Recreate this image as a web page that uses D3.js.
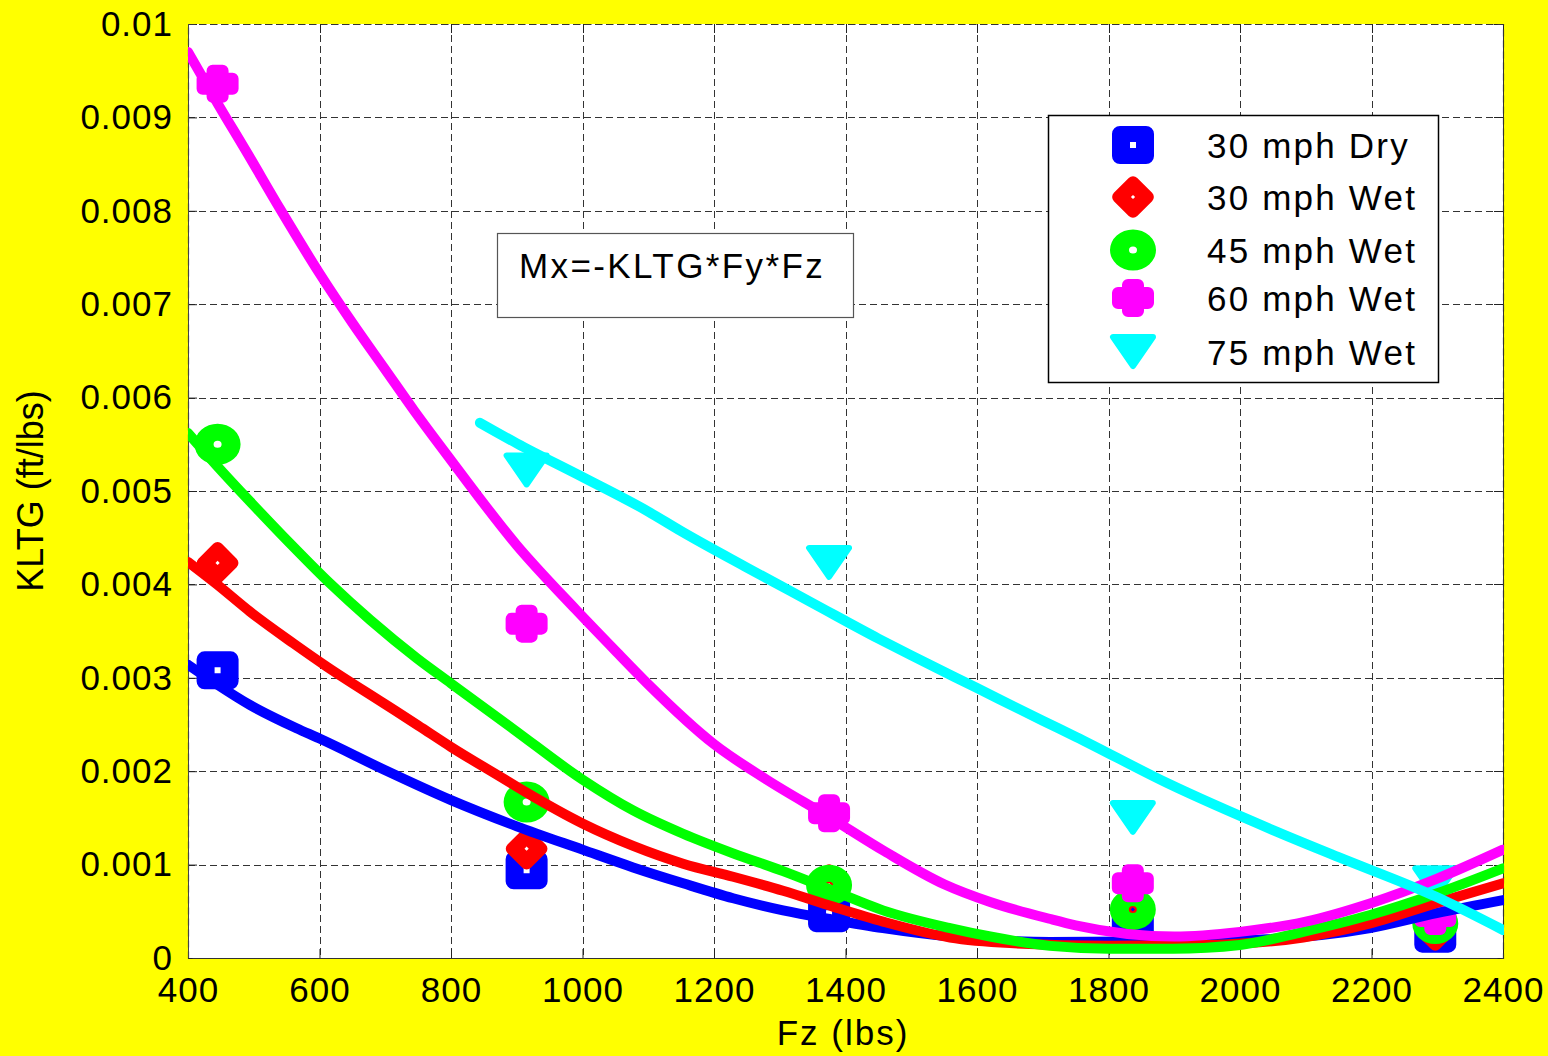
<!DOCTYPE html>
<html>
<head>
<meta charset="utf-8">
<script src="https://cdn.jsdelivr.net/npm/d3@7"></script>
<style>
  html, body { margin: 0; padding: 0; background: #ffff00; }
  svg { display: block; }
  text { font-family: "Liberation Sans", Arial, sans-serif; fill: #000; }
</style>
</head>
<body>
<svg id="chart" width="1548" height="1056"></svg>
<script>
// ---------- data ----------
const xTicks = [400, 600, 800, 1000, 1200, 1400, 1600, 1800, 2000, 2200, 2400];
const yTicks = [0, 0.001, 0.002, 0.003, 0.004, 0.005, 0.006, 0.007, 0.008, 0.009, 0.01];
const yTickLabels = ["0", "0.001", "0.002", "0.003", "0.004", "0.005", "0.006", "0.007", "0.008", "0.009", "0.01"];

const seriesNames = ["30 mph Dry", "30 mph Wet", "45 mph Wet", "60 mph Wet", "75 mph Wet"];
const seriesColors = ["#0000ff", "#ff0000", "#00ff00", "#ff00ff", "#00ffff"];

// measured points
const pointFz = [445, 915, 1375, 1837, 2297];
const dry30 = [0.00308, 0.00094, 0.00048, 0.00040, 0.00026];
const wet30 = [0.00423, 0.00117, 0.00078, 0.00052, 0.00030];
const wet45 = [0.00550, 0.00167, 0.00078, 0.00052, 0.00037];
const wet60 = [0.00936, 0.00358, 0.00155, 0.00080, 0.00045];
const wet75 = [null, 0.00522, 0.00423, 0.00150, 0.00080];

// fitted curves
const dry30FitX = [400, 444, 494, 565, 600, 700, 800, 900, 1000, 1077, 1153, 1229, 1305, 1381, 1457, 1559, 1711, 1898, 2000, 2198, 2299, 2400];
const dry30FitY = [0.00314, 0.00293, 0.00271, 0.00246, 0.00235, 0.00201, 0.00169, 0.00141, 0.00116, 0.00097, 0.00080, 0.00064, 0.00051, 0.00041, 0.00032, 0.00023, 0.00017, 0.00018, 0.00019, 0.00032, 0.00048, 0.00062];

const wet30FitX = [400, 444, 494, 560, 611, 697, 750, 800, 875, 915, 1000, 1077, 1153, 1229, 1305, 1381, 1457, 1559, 1650, 1800, 1950, 2096, 2198, 2299, 2400];
const wet30FitY = [0.00424, 0.00400, 0.00371, 0.00337, 0.00312, 0.00273, 0.00249, 0.00226, 0.00194, 0.00177, 0.00144, 0.00120, 0.00101, 0.00087, 0.00072, 0.00055, 0.00039, 0.00022, 0.00016, 0.00013, 0.00014, 0.00022, 0.00037, 0.00059, 0.00080];

const wet45FitX = [400, 444, 494, 555, 616, 677, 748, 800, 895, 1000, 1077, 1153, 1229, 1305, 1381, 1457, 1559, 1620, 1711, 1800, 1898, 2000, 2096, 2198, 2299, 2400];
const wet45FitY = [0.00562, 0.00527, 0.00489, 0.00444, 0.00401, 0.00362, 0.00321, 0.00294, 0.00245, 0.00191, 0.00158, 0.00133, 0.00112, 0.00093, 0.00072, 0.00051, 0.00032, 0.00023, 0.00013, 0.00010, 0.00010, 0.00014, 0.00028, 0.00046, 0.00069, 0.00096];

const wet60FitX = [400, 445, 490, 540, 600, 650, 700, 745, 800, 900, 990, 1050, 1100, 1200, 1280, 1375, 1460, 1550, 1620, 1710, 1750, 1900, 2000, 2100, 2200, 2300, 2400];
const wet60FitY = [0.00970, 0.00915, 0.00862, 0.00802, 0.00733, 0.00680, 0.00630, 0.00585, 0.00533, 0.00442, 0.00373, 0.00329, 0.00293, 0.00229, 0.00191, 0.00151, 0.00114, 0.00079, 0.00060, 0.00042, 0.00035, 0.00023, 0.00028, 0.00039, 0.00059, 0.00085, 0.00116];

const wet75FitX = [844, 900, 1000, 1100, 1150, 1250, 1350, 1450, 1500, 1600, 1700, 1750, 1890, 2050, 2150, 2300, 2400];
const wet75FitY = [0.00573, 0.00551, 0.00515, 0.00478, 0.00457, 0.00418, 0.00380, 0.00342, 0.00324, 0.00289, 0.00254, 0.00237, 0.00187, 0.00137, 0.00108, 0.00065, 0.00030];

const pointSets = [dry30, wet30, wet45, wet60, wet75];
const fitXs = [dry30FitX, wet30FitX, wet45FitX, wet60FitX, wet75FitX];
const fitYs = [dry30FitY, wet30FitY, wet45FitY, wet60FitY, wet75FitY];

const xTitle = "Fz (lbs)";
const yTitle = "KLTG (ft/lbs)";
const noteText = "Mx=-KLTG*Fy*Fz";

// ---------- layout ----------
const W = 1548, H = 1056;
const plot = { left: 188, right: 1503, top: 24, bottom: 958 };

const svg = d3.select("#chart");
const x = d3.scaleLinear().domain([400, 2400]).range([plot.left, plot.right]);
const y = d3.scaleLinear().domain([0, 0.01]).range([plot.bottom, plot.top]);

svg.append("rect").attr("width", W).attr("height", H).attr("fill", "#ffff00");
svg.append("rect")
  .attr("x", plot.left).attr("y", plot.top)
  .attr("width", plot.right - plot.left).attr("height", plot.bottom - plot.top)
  .attr("fill", "#fff");

// grid
const grid = svg.append("g").attr("stroke", "#333").attr("stroke-width", 1).attr("stroke-dasharray", "7,4");
grid.selectAll(".vg").data(xTicks).join("line")
  .attr("x1", d => Math.round(x(d)) + 0.5).attr("x2", d => Math.round(x(d)) + 0.5)
  .attr("y1", plot.top).attr("y2", plot.bottom);
grid.selectAll(".hg").data(yTicks).join("line")
  .attr("y1", d => Math.round(y(d)) + 0.5).attr("y2", d => Math.round(y(d)) + 0.5)
  .attr("x1", plot.left).attr("x2", plot.right);

// axes (ticks inward, labels)
const xAxis = d3.axisBottom(x).tickValues(xTicks).tickFormat(d3.format("d")).tickSizeInner(-9).tickSizeOuter(0).tickPadding(22);
const gx = svg.append("g").attr("transform", `translate(0,${plot.bottom})`).call(xAxis);
gx.select(".domain").remove();
gx.selectAll(".tick line").attr("stroke", "#222");
gx.selectAll(".tick text").attr("font-size", 35).attr("letter-spacing", 1)
  .attr("font-family", "Liberation Sans, Arial, sans-serif").attr("dy", "0.71em").attr("y", 19).attr("fill", "#000");

const yAxis = d3.axisLeft(y).tickValues(yTicks).tickFormat((d, i) => yTickLabels[i]).tickSizeInner(-9).tickSizeOuter(0).tickPadding(16);
const gy = svg.append("g").attr("transform", `translate(${plot.left},0)`).call(yAxis);
gy.select(".domain").remove();
gy.selectAll(".tick line").attr("stroke", "#222");
gy.selectAll(".tick text").attr("font-size", 35).attr("letter-spacing", 1)
  .attr("font-family", "Liberation Sans, Arial, sans-serif").attr("x", -15).attr("fill", "#000");

// top/right inward ticks
const tk = svg.append("g").attr("stroke", "#222").attr("stroke-width", 1);
tk.selectAll(".tt").data(xTicks).join("line")
  .attr("x1", d => Math.round(x(d)) + 0.5).attr("x2", d => Math.round(x(d)) + 0.5)
  .attr("y1", plot.top).attr("y2", plot.top + 9);
tk.selectAll(".rt").data(yTicks).join("line")
  .attr("y1", d => Math.round(y(d)) + 0.5).attr("y2", d => Math.round(y(d)) + 0.5)
  .attr("x1", plot.right).attr("x2", plot.right - 9);

// frame
svg.append("rect")
  .attr("x", plot.left + 0.5).attr("y", plot.top + 0.5)
  .attr("width", plot.right - plot.left).attr("height", plot.bottom - plot.top)
  .attr("fill", "none").attr("stroke", "#333").attr("stroke-width", 1.2).attr("stroke-dasharray", "7,4");
svg.append("line").attr("x1", plot.left + 0.5).attr("x2", plot.left + 0.5)
  .attr("y1", plot.top).attr("y2", plot.bottom).attr("stroke", "#444").attr("stroke-width", 1);

// ---------- marker shapes ----------
function roundRect(w, h, r) {
  const x0 = -w / 2, y0 = -h / 2, x1 = w / 2, y1 = h / 2;
  return `M${x0 + r},${y0}H${x1 - r}A${r},${r} 0 0 1 ${x1},${y0 + r}V${y1 - r}A${r},${r} 0 0 1 ${x1 - r},${y1}H${x0 + r}A${r},${r} 0 0 1 ${x0},${y1 - r}V${y0 + r}A${r},${r} 0 0 1 ${x0 + r},${y0}Z`;
}
function rectHole(w, h) {
  return `M${-w / 2},${-h / 2}V${h / 2}H${w / 2}V${-h / 2}Z`;
}
function ell(rx, ry) {
  return `M${-rx},0A${rx},${ry} 0 1 0 ${rx},0A${rx},${ry} 0 1 0 ${-rx},0Z`;
}
const markerDefs = [
  { d: roundRect(42, 38, 8) + rectHole(6, 6), rot: 0, stroke: 0, rule: "evenodd" },
  { d: roundRect(33, 33, 6) + rectHole(3, 3), rot: 45, stroke: 0, rule: "evenodd" },
  { d: ell(23, 20.5) + ell(4, 3.5), rot: 0, stroke: 0, rule: "evenodd" },
  { d: "M-5,-13H5V-5H15V5H5V13H-5V5H-15V-5H-5Z M0,-11L13,0L0,11L-13,0Z", rot: 0, stroke: 12, rule: "nonzero" },
  { d: "M-20,-15H20L0,14Z", rot: 0, stroke: 6, rule: "nonzero" }
];

function drawMarker(g, i, cx, cy) {
  const m = markerDefs[i];
  const p = g.append("path")
    .attr("d", m.d)
    .attr("transform", `translate(${cx},${cy}) rotate(${m.rot})`)
    .attr("fill", seriesColors[i])
    .attr("fill-rule", m.rule);
  if (m.stroke) {
    p.attr("stroke", seriesColors[i]).attr("stroke-width", m.stroke).attr("stroke-linejoin", "round");
  }
}

// markers
const mg = svg.append("g");
pointSets.forEach((vals, i) => {
  vals.forEach((v, j) => {
    if (v == null) return;
    drawMarker(mg, i, x(pointFz[j]), y(v));
  });
});

// fitted lines
svg.append("clipPath").attr("id", "plotclip").append("rect")
  .attr("x", plot.left).attr("y", plot.top - 20)
  .attr("width", plot.right - plot.left + 1).attr("height", plot.bottom - plot.top + 20);
const line = d3.line().x(d => x(d[0])).y(d => y(d[1])).curve(d3.curveMonotoneX);
const lg = svg.append("g").attr("clip-path", "url(#plotclip)");
fitXs.forEach((xs, i) => {
  const pts = xs.map((v, k) => [v, fitYs[i][k]]);
  lg.append("path").attr("d", line(pts))
    .attr("fill", "none").attr("stroke", seriesColors[i])
    .attr("stroke-width", 10).attr("stroke-linecap", "round").attr("stroke-linejoin", "round");
});

// annotation box
svg.append("rect").attr("x", 497.5).attr("y", 233.5).attr("width", 356).attr("height", 84)
  .attr("fill", "#fff").attr("stroke", "#555").attr("stroke-width", 1.2);
svg.append("text").attr("x", 519).attr("y", 278).attr("font-size", 35).attr("letter-spacing", 2.4)
  .text(noteText);

// legend
const leg = svg.append("g");
leg.append("rect").attr("x", 1048.5).attr("y", 115.5).attr("width", 390).attr("height", 267)
  .attr("fill", "#fff").attr("stroke", "#000").attr("stroke-width", 1.5);
const legRows = [145, 197, 250, 298, 352];
seriesNames.forEach((name, i) => {
  drawMarker(leg, i, 1133, legRows[i]);
  leg.append("text").attr("x", 1207).attr("y", legRows[i] + 13)
    .attr("font-size", 35).attr("letter-spacing", 2.2).text(name);
});

// axis titles
svg.append("text").attr("x", 843).attr("y", 1045).attr("text-anchor", "middle")
  .attr("font-size", 35).attr("letter-spacing", 2).text(xTitle);
svg.append("text").attr("transform", "translate(43,491) rotate(-90)").attr("text-anchor", "middle")
  .attr("font-size", 36).text(yTitle);
</script>
</body>
</html>
